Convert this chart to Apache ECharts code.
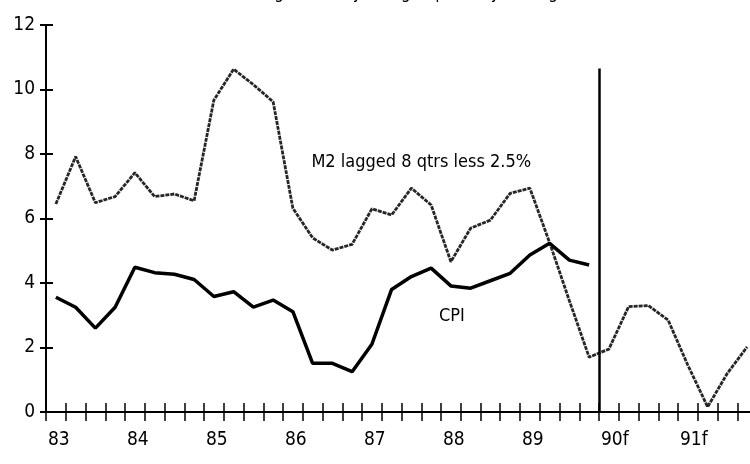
<!DOCTYPE html>
<html>
<head>
<meta charset="utf-8">
<script src="https://cdn.jsdelivr.net/npm/echarts@6/dist/echarts.min.js"></script>
<style>
  html, body { margin: 0; padding: 0; background: #fff; }
  #main { width: 750px; height: 464px; }
</style>
</head>
<body>
<div id="main"></div>
<script>
// year labels, one per 4 quarters starting 1983 Q1
var yearLabels = ['83', '84', '85', '86', '87', '88', '89', '90f', '91f'];
// quarterly values, 83Q1 .. 91Q4
var m2Lagged = [6.45, 7.92, 6.49, 6.68, 7.42, 6.68, 6.76, 6.55,
    9.67, 10.63, 10.15, 9.62, 6.32, 5.4, 5.02, 5.2,
    6.3, 6.11, 6.94, 6.42, 4.66, 5.7, 5.95, 6.78,
    6.94, 5.25, 3.45, 1.7, 1.95, 3.27, 3.3, 2.85,
    1.45, 0.16, 1.2, 2.02];
// quarterly CPI, 83Q1 .. 89Q4
var cpi = [3.56, 3.25, 2.6, 3.25, 4.49, 4.32, 4.27, 4.11,
    3.58, 3.73, 3.25, 3.47, 3.11, 1.51, 1.51, 1.25,
    2.1, 3.8, 4.2, 4.46, 3.91, 3.84, 4.07, 4.3,
    4.87, 5.23, 4.71, 4.56];
var yTicks = [0, 2, 4, 6, 8, 10, 12];
var forecastStart = 28; // quarter index where 1990 begins

var fnt = '"DejaVu Sans Condensed", "Liberation Sans Narrow", "Arial Narrow", sans-serif';

function toPoints(arr) {
    var pts = [];
    for (var i = 0; i < arr.length; i++) {
        pts.push([i + 0.5, arr[i]]);
    }
    return pts;
}

var chart = echarts.init(document.getElementById('main'));
var option = {
    animation: false,
    backgroundColor: '#fff',
    grid: { left: 46, top: 25, width: 711, height: 387, outerBoundsMode: 'none', containLabel: false },
    graphic: [{
        type: 'text',
        left: 'center',
        top: -15,
        style: {
            text: '(Percent change from a year ago, quarterly averages)',
            font: '17px ' + fnt,
            fill: '#000'
        }
    }],
    xAxis: [{
        type: 'value', min: 0, max: 36, interval: 1,
        axisLine: { onZero: false, lineStyle: { color: '#000', width: 2 } },
        axisTick: { show: true, inside: false, length: 9, lineStyle: { color: '#000', width: 1.5 } },
        splitLine: { show: false },
        axisLabel: {
            color: '#000', fontSize: 19, fontFamily: fnt, margin: 19,
            align: 'left', padding: [0, 0, 0, 2],
            showMaxLabel: false,
            formatter: function (v) {
                if (v % 4 === 0 && yearLabels[v / 4]) return yearLabels[v / 4];
                return '';
            }
        }
    }, {
        type: 'value', min: 0, max: 36, interval: 1, position: 'bottom',
        axisLine: { show: false, onZero: false },
        axisTick: { show: true, inside: true, length: 9, lineStyle: { color: '#000', width: 1.5 } },
        axisLabel: { show: false },
        splitLine: { show: false }
    }],
    yAxis: [{
        type: 'value', min: yTicks[0], max: yTicks[yTicks.length - 1], interval: 2,
        axisLine: { show: true, lineStyle: { color: '#000', width: 2 } },
        axisTick: { show: true, inside: false, length: 6, lineStyle: { color: '#000', width: 2 } },
        splitLine: { show: false },
        axisLabel: { color: '#000', fontSize: 19, fontFamily: fnt, margin: 11 }
    }, {
        type: 'value', min: yTicks[0], max: yTicks[yTicks.length - 1], interval: 2, position: 'left',
        axisLine: { show: false },
        axisTick: { show: true, inside: true, length: 7, lineStyle: { color: '#000', width: 2 } },
        splitLine: { show: false },
        axisLabel: { show: false }
    }],
    series: [{
        name: 'M2 lagged 8 qtrs less 2.5%',
        type: 'line',
        data: toPoints(m2Lagged),
        symbol: 'none',
        lineStyle: { color: '#262626', width: 2.8, type: [4, 1] },
        markPoint: {
            symbol: 'circle', symbolSize: 0,
            label: { show: true, color: '#000', fontSize: 18, fontFamily: fnt, formatter: '{b}' },
            data: [{ name: 'M2 lagged 8 qtrs less 2.5%', coord: [19.0, 7.75] }]
        }
    }, {
        name: 'CPI',
        type: 'line',
        data: toPoints(cpi),
        symbol: 'none',
        lineStyle: { color: '#000', width: 3.5 },
        markPoint: {
            symbol: 'circle', symbolSize: 0,
            label: { show: true, color: '#000', fontSize: 18, fontFamily: fnt, formatter: '{b}' },
            data: [{ name: 'CPI', coord: [20.55, 2.97] }]
        },
        markLine: {
            symbol: 'none', silent: true,
            label: { show: false },
            lineStyle: { color: '#000', width: 2.5, type: 'solid' },
            data: [[{ coord: [forecastStart, 0] }, { coord: [forecastStart, 10.65] }]]
        }
    }]
};
chart.setOption(option);
</script>
</body>
</html>
